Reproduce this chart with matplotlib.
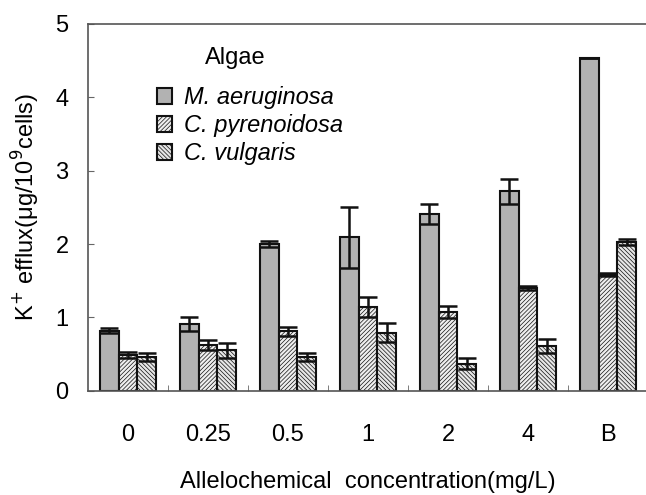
import matplotlib
matplotlib.use("Agg")
import matplotlib.pyplot as plt
import numpy as np

plt.rcParams['font.family'] = ['Liberation Sans', 'DejaVu Sans']
plt.rcParams['hatch.linewidth'] = 0.5
plt.rcParams['hatch.color'] = '#9a9a9a'

categories = ['0', '0.25', '0.5', '1', '2', '4', 'B']
species = ['M. aeruginosa', 'C. pyrenoidosa', 'C. vulgaris']
m_aer = [0.82, 0.91, 2.00, 2.09, 2.41, 2.72, 4.54]
m_aer_sd = [0.03, 0.10, 0.04, 0.42, 0.14, 0.17, 0.0]
c_pyr = [0.49, 0.62, 0.81, 1.14, 1.07, 1.40, 1.58]
c_pyr_sd = [0.04, 0.07, 0.06, 0.14, 0.08, 0.03, 0.02]
c_vul = [0.46, 0.55, 0.46, 0.79, 0.37, 0.61, 2.03]
c_vul_sd = [0.06, 0.10, 0.06, 0.13, 0.075, 0.10, 0.04]

values = [m_aer, c_pyr, c_vul]
errors = [m_aer_sd, c_pyr_sd, c_vul_sd]
fills = ['#b2b2b2', '#efefef', '#e6e6e6']
hatches = [None, '////////', '\\\\\\\\\\\\\\\\']

FS = 17
fig = plt.figure(figsize=(6.46, 4.95), dpi=100)
ax = fig.add_axes([88/646, 1-390.7/495, 560/646, (390.7-24)/495])

x = np.arange(len(categories))
bw = 0.7/3
handles = []
for i in range(3):
    pos = x + (i-1)*bw
    h = ax.bar(pos, values[i], width=bw, color=fills[i], edgecolor='#111111',
               linewidth=1.5, hatch=hatches[i], label=species[i], zorder=2)
    handles.append(h)
    ax.errorbar(pos, values[i], yerr=errors[i], fmt='none', ecolor='#111111',
                elinewidth=1.8, capsize=6.5, capthick=1.8, zorder=3)

ax.set_xlim(-0.5, 6.5)
ax.set_ylim(0, 5)
ax.set_yticks([0, 1, 2, 3, 4, 5])
ax.set_xticks(x)
ax.set_xticklabels(categories)
ax.set_xticks(x[:-1] + 0.5, minor=True)
ax.tick_params(axis='x', which='major', length=0, pad=24, labelsize=FS)
ax.tick_params(axis='x', which='minor', direction='in', length=4, color='#666666')
ax.tick_params(axis='y', direction='in', length=4, color='#666666', labelsize=FS, pad=14)
for s in ['left', 'bottom', 'top']:
    ax.spines[s].set_color('#555555')
    ax.spines[s].set_linewidth(1.2)
ax.spines['right'].set_visible(False)

ax.set_ylabel('K$^{+}$ efflux(μg/10$^{9}$cells)', fontsize=FS, labelpad=10)
ax.set_xlabel('Allelochemical  concentration(mg/L)', fontsize=FS, labelpad=18)

fig.text(205/646, 1-58/495, 'Algae', fontsize=FS, va='center', ha='left')
leg = fig.legend(handles=handles, labels=species, loc='upper left',
                 bbox_to_anchor=(157/646, 1-86/495), bbox_transform=fig.transFigure,
                 frameon=False, fontsize=FS, borderpad=0, borderaxespad=0,
                 handlelength=0.65, handleheight=0.65, handletextpad=0.5,
                 labelspacing=0.22)
for t in leg.get_texts():
    t.set_fontstyle('italic')

fig.savefig('out.png', dpi=100)
